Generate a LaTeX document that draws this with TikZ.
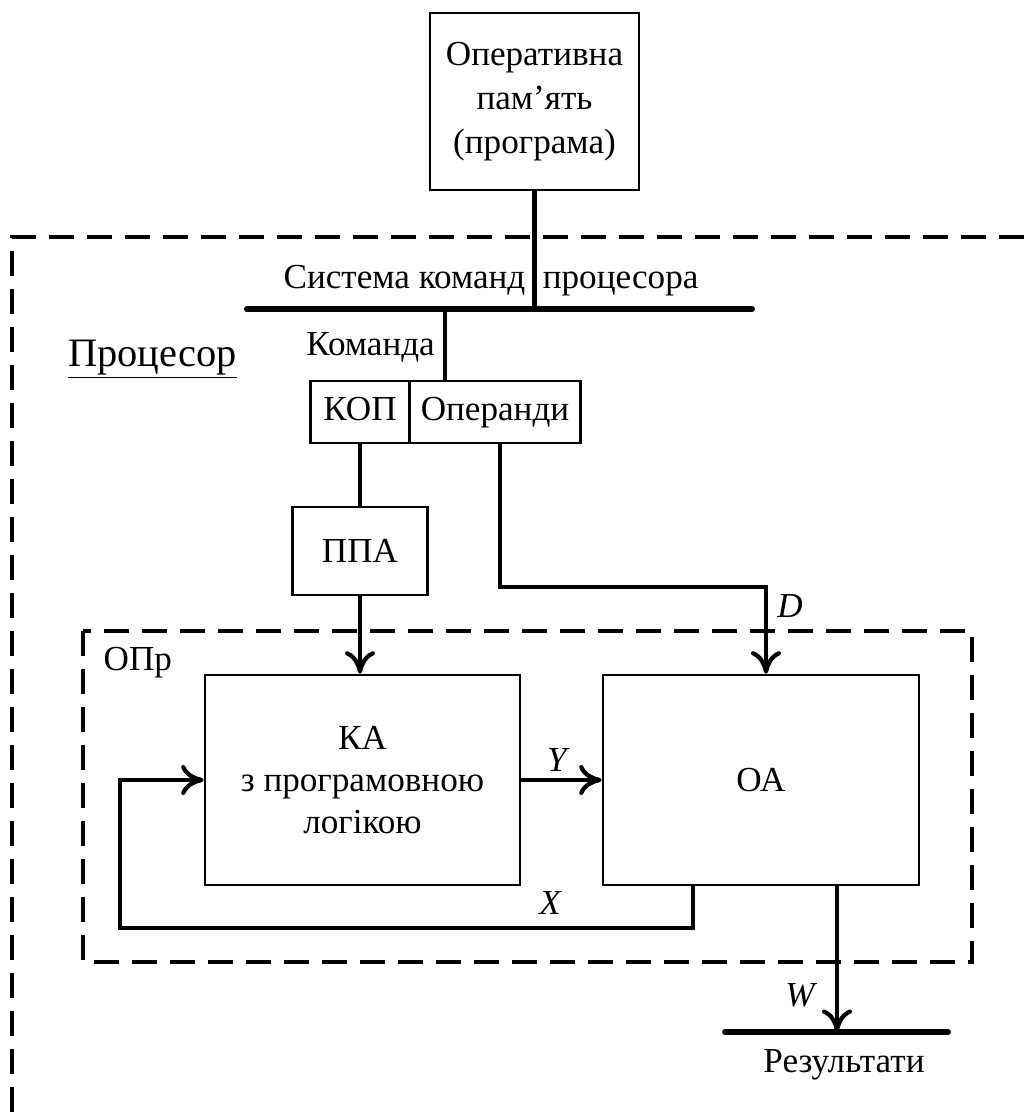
\documentclass[tikz,border=0pt]{standalone}
\usepackage{fontspec}
\setmainfont{Liberation Serif}
\usetikzlibrary{arrows.meta,positioning,calc}

\begin{document}
\begin{tikzpicture}[
  x=1cm, y=1cm,
  font=\fontsize{20}{24}\selectfont,
  block/.style={rectangle, draw, line width=1.5pt, align=center, inner sep=0pt},
  field/.style={block, minimum height=1.24cm, text height=0.48cm, text depth=0.14cm},
  link/.style={line width=2.8pt},
  arrow/.style={line width=2.8pt, -{Computer Modern Rightarrow[length=4.5mm,width=6mm,line width=2.4pt]}},
  bus/.style={line width=3.4pt, line cap=round},
  frame/.style={line width=1.8pt, dash pattern=on 0.5cm off 0.26cm},
  sig/.style={font=\fontsize{20}{24}\selectfont\itshape}
]
\useasboundingbox (0,0) rectangle (20.6,-22.3);

% memory and instruction set
\node[block, minimum width=4.18cm, minimum height=3.54cm, font=\fontsize{20}{25.2}\selectfont] (mem) at (10.69,-2.03) {Оперативна\\пам’ять\\(програма)};
\coordinate (busL) at (4.94,-6.18);
\coordinate (busR) at (15.04,-6.18);
\draw[bus] (busL) -- (busR);
\node (isa) at (9.82,-5.62) {Система команд\hspace{0.5em}процесора};
\draw[link] (mem.south) -- (mem.south |- busL);

% outer processor frame
\draw[frame] (0.24,-23) -- (0.24,-4.74) -- (21,-4.74);
\node[anchor=base west, inner sep=0pt, font=\fontsize{23}{27}\selectfont] (cpu) at (1.36,-7.32) {\underline{Процесор}};

% command register
\node[field, minimum width=1.98cm] (kop) at (7.2,-8.24) {КОП};
\node[field, minimum width=3.42cm, right=-1.5pt of kop] (opnd) {Операнди};
\coordinate (cmdin) at (8.9,-6.18);
\draw[link] (cmdin) -- (cmdin |- kop.north);
\node[anchor=east] (cmd) at (8.82,-6.94) {Команда};

\node[block, minimum width=2.7cm, minimum height=1.76cm] (ppa) at (7.2,-11.02) {ППА};
\draw[link] (kop.south) -- (ppa.north);

% control unit frame
\draw[frame] (1.66,-12.62) rectangle (19.44,-19.24);
\node[anchor=west] (opr) at (1.95,-13.26) {ОПр};

\node[block, minimum width=6.3cm, minimum height=4.2cm] (ka) at (7.25,-15.6) {КА\\з програмовною\\логікою};
\node[block, minimum width=6.32cm, minimum height=4.2cm] (oa) at (15.22,-15.6) {ОА};

\draw[arrow] (ppa.south) -- (ppa.south |- ka.north);

% operands to OA
\coordinate (dbend) at (10.0,-11.74);
\coordinate (dlin) at (15.32,-11.74);
\draw[arrow] (dbend |- opnd.south) -- (dbend) -- (dlin) -- (dlin |- oa.north);
\node[sig] (dlab) at (15.8,-12.12) {D};

% Y and X
\draw[arrow] (ka.east) -- (oa.west);
\node[sig] (ylab) at (11.14,-15.2) {Y};

\coordinate (xout) at (13.86,-18.56);
\coordinate (xin) at (2.4,-18.56);
\draw[arrow] (xout |- oa.south) -- (xout) -- (xin) -- (xin |- ka.west) -- (ka.west);
\node[sig] (xlab) at (11.0,-18.06) {X};

% results
\coordinate (resL) at (14.5,-20.64);
\coordinate (resR) at (18.96,-20.64);
\coordinate (wout) at (16.74,-20.64);
\draw[bus] (resL) -- (resR);
\draw[arrow] (wout |- oa.south) -- (wout);
\node[sig] (wlab) at (16.0,-19.9) {W};
\node (res) at (16.88,-21.3) {Результати};
\end{tikzpicture}
\end{document}
